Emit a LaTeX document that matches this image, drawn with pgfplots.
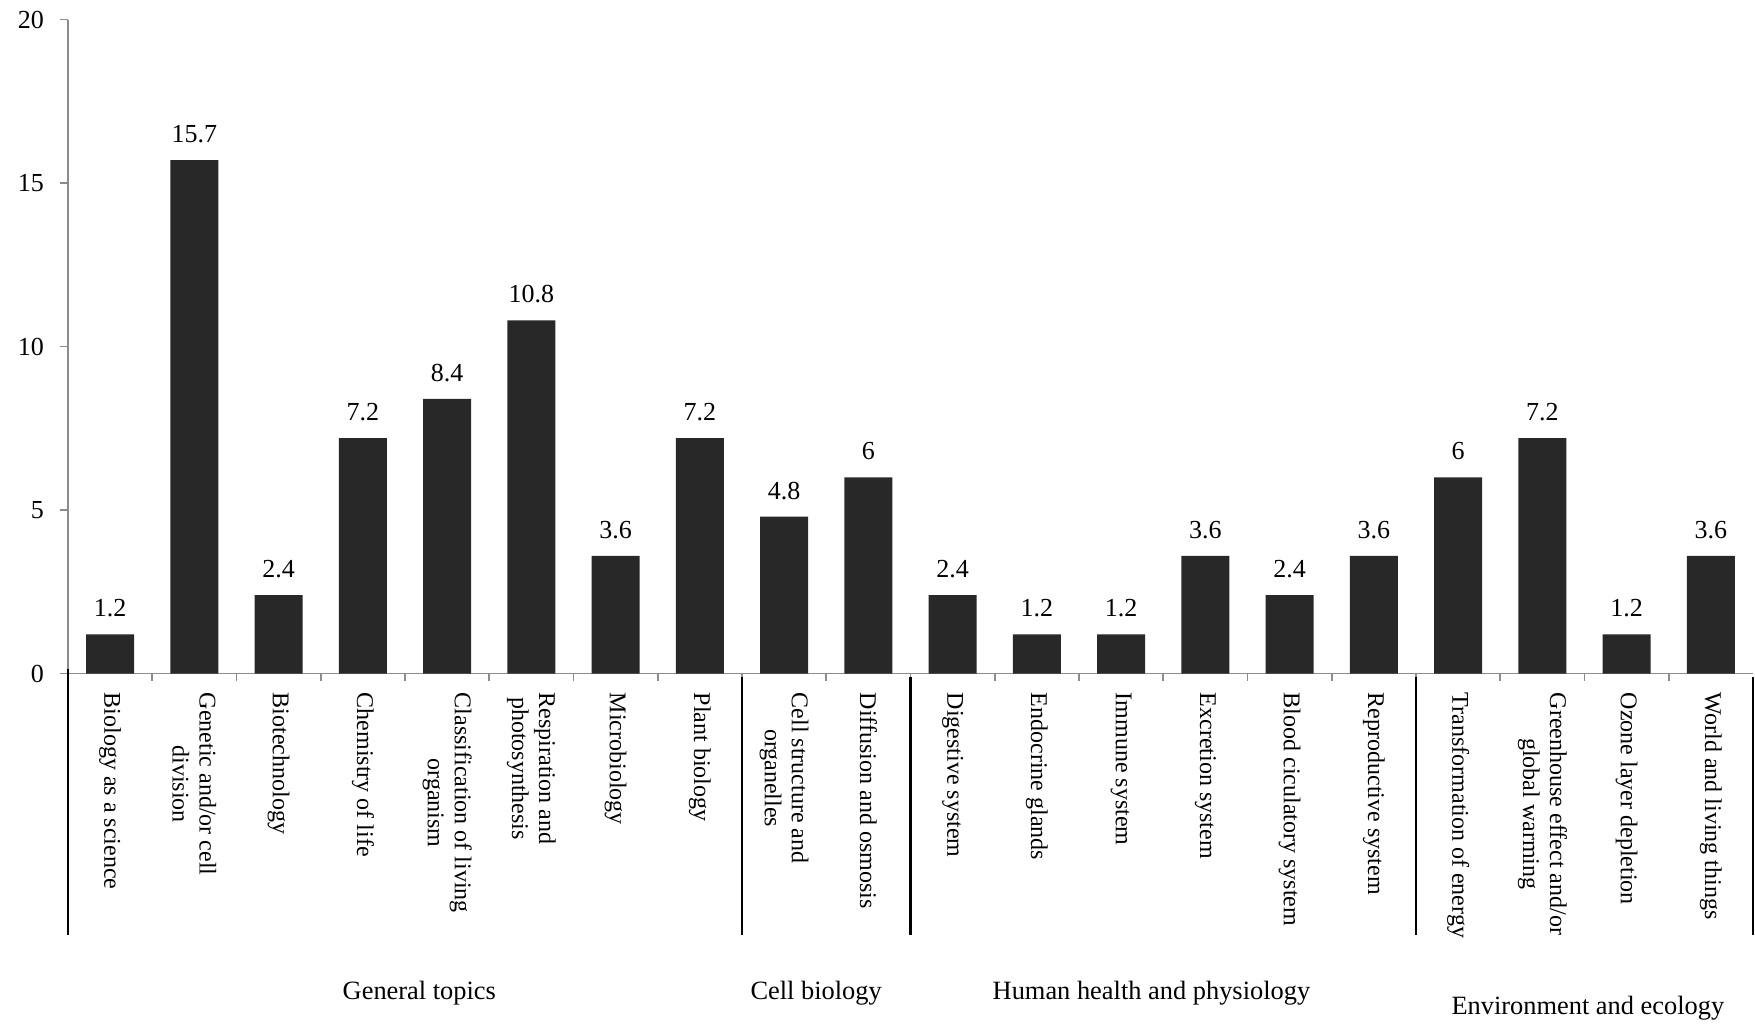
\documentclass[border=0pt]{standalone}
\usepackage{fontspec}
\setmainfont{Liberation Serif}
\usepackage{pgfplots}
\pgfplotsset{compat=1.18}
\definecolor{barfill}{HTML}{282828}
\definecolor{axisgray}{HTML}{8C8C8C}

\begin{document}
\begin{tikzpicture}
\path[use as bounding box] (-34pt,-174.75pt) rectangle (843.5pt,336.75pt);
\begin{axis}[
  at={(0,0)}, anchor=south west,
  scale only axis, width=842.5pt, height=327pt,
  xmin=-0.5, xmax=19.5, ymin=0, ymax=20,
  clip=false,
  axis lines*=left,
  axis line style={axisgray, line width=0.8pt},
  ybar, bar width=0.57,
  ytick={0,5,10,15,20},
  xtick={0,...,19},
  minor xtick={0.5,1.5,...,18.5},
  tick align=outside,
  major tick length=4pt,
  minor tick length=3.5pt,
  tick style={axisgray, line width=0.8pt},
  major x tick style={draw=none},
  /pgf/number format/assume math mode=true,
  yticklabel style={font=\fontsize{13}{15}\selectfont, xshift=-4.5pt},
  xticklabels={
    Biology as a science,
    {Genetic and/or cell\\division},
    Biotechnology,
    Chemistry of life,
    {Classification of living\\organism},
    {Respiration and\\photosynthesis},
    Microbiology,
    Plant biology,
    {Cell structure and\\organelles},
    Diffusion and osmosis,
    Digestive system,
    Endocrine glands,
    Immune system,
    Excretion system,
    Blood ciculatory system,
    Reproductive system,
    Transformation of energy,
    {Greenhouse effect and/or\\global warming},
    Ozone layer depletion,
    World and living things},
  % the label frame is turned, so xshift moves the labels down the page
  xticklabel style={font=\fontsize{12}{13.5}\selectfont, rotate=-90, anchor=west,
    align=center, inner sep=0pt, xshift=5.5pt},
  nodes near coords,
  every node near coord/.append style={font=\fontsize{13}{15}\selectfont, yshift=5pt},
]
\addplot[fill=barfill, draw=none] coordinates {
  (0,1.2) (1,15.7) (2,2.4) (3,7.2) (4,8.4) (5,10.8) (6,3.6) (7,7.2)
  (8,4.8) (9,6)
  (10,2.4) (11,1.2) (12,1.2) (13,3.6) (14,2.4) (15,3.6)
  (16,6) (17,7.2) (18,1.2) (19,3.6)};

% group separators below the category axis
\draw[black, line width=1.35pt] (axis cs:-0.5,0) ++(0pt,2.5pt) -- ++(0pt,-133.25pt);
\pgfplotsinvokeforeach{7.5,9.5,15.5,19.5}{
  \draw[black, line width=1.35pt] (axis cs:#1,0) ++(0pt,-1.5pt) -- ++(0pt,-129.25pt);
}

% group names
\node[anchor=base, font=\fontsize{13.2}{15}\selectfont] at (axis cs:3.67,0) [yshift=-162.75pt] {General topics};
\node[anchor=base, font=\fontsize{13.2}{15}\selectfont] at (axis cs:8.38,0) [yshift=-162.75pt] {Cell biology};
\node[anchor=base, font=\fontsize{13.2}{15}\selectfont] at (axis cs:12.36,0) [yshift=-162.75pt] {Human health and physiology};
\node[anchor=base, font=\fontsize{13.2}{15}\selectfont] at (axis cs:17.54,0) [yshift=-170.4pt] {Environment and ecology};
\end{axis}
\end{tikzpicture}
\end{document}
